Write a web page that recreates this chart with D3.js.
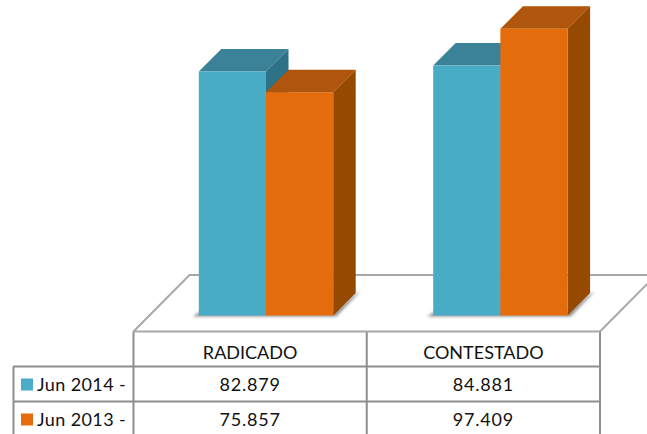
<!DOCTYPE html>
<html><head><meta charset="utf-8">
<script src="https://cdn.jsdelivr.net/npm/d3@7/dist/d3.min.js"></script>
<style>html,body{margin:0;padding:0;background:#fff}svg{display:block}text{font-family:Lato,"Open Sans",sans-serif;fill:#111}</style>
</head><body><div id="c"></div>
<script>
const categories = ["RADICADO", "CONTESTADO"];
const seriesNames = ["Jun 2014 -", "Jun 2013 -"];
const jun2014 = [82.879, 84.881];
const jun2013 = [75.857, 97.409];
const jun2014Labels = ["82.879", "84.881"];
const jun2013Labels = ["75.857", "97.409"];
const faceColors = ["#4aacc7", "#e46c0a"];
const topColors = ["#3a8299", "#b05407"];
const sideColors = ["#2f7287", "#964806"];

const W = 647, H = 434, depth = 22.5;
const svg = d3.select("#c").append("svg").attr("width", W).attr("height", H);
const defs = svg.append("defs");
defs.append("filter").attr("id", "b").attr("x", "-20%").attr("y", "-100%").attr("width", "140%").attr("height", "300%")
  .append("feGaussianBlur").attr("stdDeviation", 1.6);
defs.append("filter").attr("id", "soft").append("feGaussianBlur").attr("stdDeviation", 0.3);

const x = d3.scaleBand().domain(categories).range([133.5, 600]);
const groupX = d3.scalePoint().domain(categories).range([266, 500.4]);
const xs = d3.scaleBand().domain(seriesNames).range([-67.2, 67.2]);
const y = d3.scaleLinear().domain([0, 100]).range([315.5, 21.1]);
const rows = d3.scaleBand().domain(["head", ...seriesNames]).range([331.5, 436.5]);
const values = [jun2014, jun2013], labels = [jun2014Labels, jun2013Labels];
const center = c => groupX(c);

// floor
const floorY = y(0) + 16, backY = floorY - 56.5;
const line = d3.line();
svg.append("path").attr("fill", "none").attr("stroke", "#a8a8a8").attr("stroke-width", 2)
  .attr("d", line([[133.5, floorY], [189.5, backY], [656, backY], [600, floorY]]));

// shadows
categories.forEach(c => {
  const l = center(c) + xs(seriesNames[0]), r = center(c) + xs(seriesNames[1]) + xs.bandwidth();
  svg.append("path").attr("fill", "#8f8f8f").attr("filter", "url(#b)")
    .attr("d", line([[l - 6, y(0) + 1], [r + 3, y(0) + 1], [r + 27, y(0) - 24], [r + 20, y(0) - 20], [r, y(0) - 3], [l, y(0) - 3]]) + "Z");
});

// bars, drawn back to front within each group
const g = svg.append("g").attr("filter", "url(#soft)");
categories.forEach((c, ci) => {
  seriesNames.forEach((s, si) => {
    const l = center(c) + xs(s), r = l + xs.bandwidth();
    const t = y(values[si][ci]), b = y(0);
    g.append("path").attr("fill", sideColors[si]).attr("d", line([[r, t], [r + depth, t - depth], [r + depth, b - depth], [r, b]]) + "Z");
    g.append("path").attr("fill", topColors[si]).attr("d", line([[l, t], [l + depth, t - depth], [r + depth, t - depth], [r, t]]) + "Z");
    g.append("rect").attr("x", l).attr("y", t).attr("width", r - l).attr("height", b - t).attr("fill", faceColors[si]);
  });
});

// data table
const grid = svg.append("g").attr("stroke", "#8e8e8e").attr("stroke-width", 2).attr("fill", "none");
const vl = [x(categories[0]), x(categories[1]), x.range()[1]];
vl.forEach(v => grid.append("line").attr("x1", v).attr("x2", v).attr("y1", floorY).attr("y2", H));
grid.append("line").attr("x1", 133.5).attr("x2", 600).attr("y1", floorY).attr("y2", floorY).attr("stroke", "#a8a8a8");
seriesNames.forEach(s => grid.append("line").attr("x1", 13).attr("x2", 600).attr("y1", rows(s)).attr("y2", rows(s)));
grid.append("line").attr("x1", 13.5).attr("x2", 13.5).attr("y1", rows(seriesNames[0])).attr("y2", H);

const fs = 18;
categories.forEach(c => {
  svg.append("text").attr("x", x(c) + x.bandwidth() / 2).attr("y", rows("head") + rows.bandwidth() / 2 + 10)
    .attr("text-anchor", "middle").attr("font-size", fs).text(c);
});
seriesNames.forEach((s, si) => {
  const ry = rows(s), mid = ry + rows.bandwidth() / 2 + 0.5;
  svg.append("rect").attr("x", 21).attr("y", mid - 6).attr("width", 12).attr("height", 12).attr("fill", faceColors[si]);
  svg.append("text").attr("x", 37).attr("y", mid + 6).attr("font-size", fs).attr("letter-spacing", 0.4).text(s);
  categories.forEach((c, ci) => {
    svg.append("text").attr("x", x(c) + x.bandwidth() / 2).attr("y", mid + 6)
      .attr("text-anchor", "middle").attr("font-size", fs).attr("letter-spacing", 0.8).text(labels[si][ci]);
  });
});
</script></body></html>
